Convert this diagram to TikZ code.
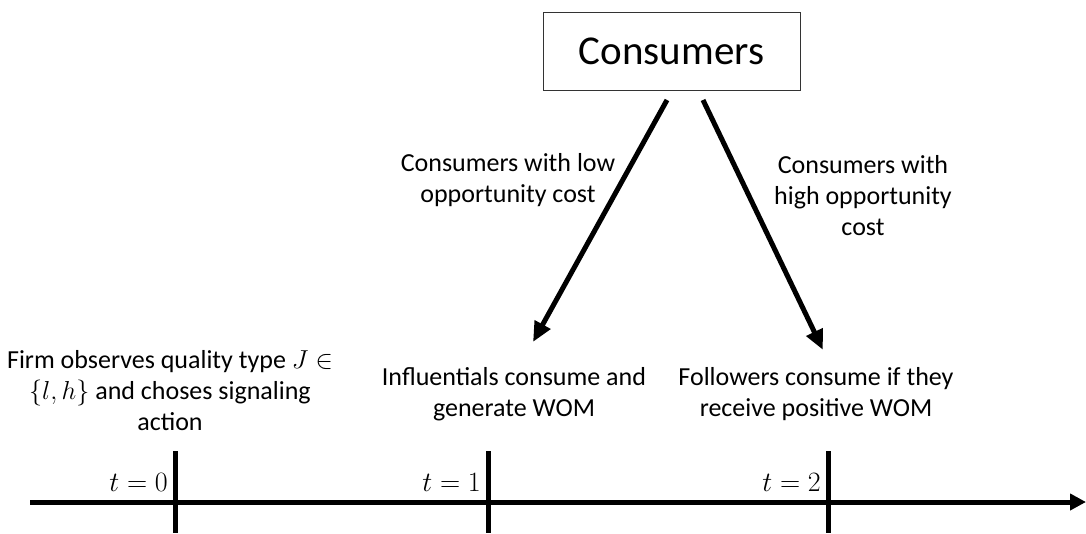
\documentclass[tikz,border=0pt]{standalone}
\usepackage{fix-cm}
\usepackage{fontspec}
\setmainfont{Carlito}
\usetikzlibrary{arrows.meta,calc}
\begin{document}
\begin{tikzpicture}[x=1pt,y=-1pt,
  lbl/.style={align=center,font=\fontsize{26}{31}\selectfont,inner sep=0pt},
  tlbl/.style={anchor=south east,font=\fontsize{28}{34}\selectfont,inner sep=0pt},
  thick line/.style={line width=5pt},
  arr/.style={line width=5pt,-{Triangle[length=20pt,width=17pt]}}]
\useasboundingbox (0,0) rectangle (1086,533);
% consumers box
\node[draw=black!80,line width=1pt,minimum width=257pt,minimum height=78pt,inner sep=0pt,
  font=\fontsize{41}{48}\selectfont] (consumers) at (671.5,51) {Consumers};
\coordinate (ls) at (667,100);
\coordinate (le) at (533,342);
\coordinate (rs) at (703,100);
\coordinate (re) at (823,350);
\draw[arr] (ls) -- (le);
\draw[arr] (rs) -- (re);
\node[lbl] (lowlbl) at (508,180) {Consumers with low\\opportunity cost};
\node[lbl] (highlbl) at (863,196) {Consumers with\\high opportunity\\cost};
% timeline
\coordinate (ts) at (30,502);
\coordinate (te) at (1086,502);
\draw[line width=5pt,-{Triangle[length=16pt,width=16pt]}] (ts) -- (te);
\coordinate (t0a) at (175,451); \coordinate (t0b) at (175,533);
\coordinate (t1a) at (488,451); \coordinate (t1b) at (488,533);
\coordinate (t2a) at (828,451); \coordinate (t2b) at (828,533);
\draw[thick line] (t0a) -- (t0b);
\draw[thick line] (t1a) -- (t1b);
\draw[thick line] (t2a) -- (t2b);
\node[tlbl] (l0) at (168,492) {$t=0$};
\node[tlbl] (l1) at (481,492) {$t=1$};
\node[tlbl] (l2) at (821,492) {$t=2$};
% descriptions
\node[lbl] (firm) at (170,391) {Firm observes quality type $J\in$\\$\{l,h\}$ and choses signaling\\action};
\node[lbl] (infl) at (514,394) {Influentials consume and\\generate WOM};
\node[lbl] (foll) at (816,394) {Followers consume if they\\receive positive WOM};
\end{tikzpicture}
\end{document}
